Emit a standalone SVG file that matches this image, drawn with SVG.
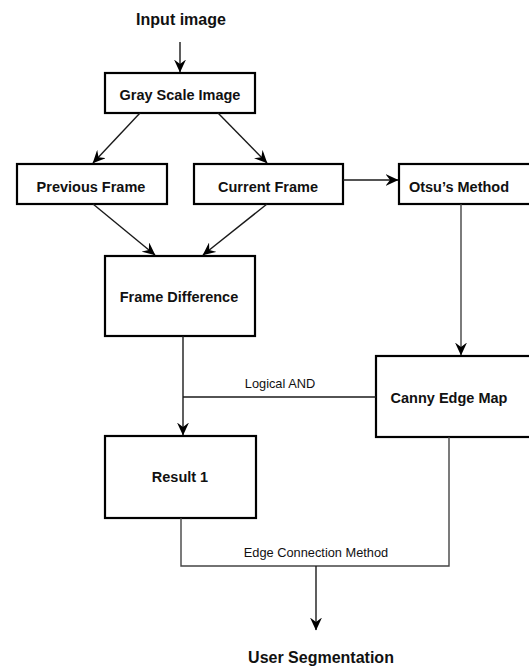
<svg xmlns="http://www.w3.org/2000/svg" width="529" height="668" viewBox="0 0 529 668">
  <style>
    .box { fill: #ffffff; stroke: #000000; stroke-width: 2.2; }
    .label { font-family: "Liberation Sans", Arial, sans-serif; font-weight: bold; font-size: 14.5px; fill: #111111; text-anchor: middle; }
    .title { font-family: "Liberation Sans", Arial, sans-serif; font-weight: bold; font-size: 16px; fill: #111111; text-anchor: middle; }
    .edge-label { font-family: "Liberation Sans", Arial, sans-serif; font-size: 12.8px; fill: #111111; text-anchor: middle; }
    .wire { fill: none; stroke: #1a1a1a; stroke-width: 1.4; }
    .wire-grey { fill: none; stroke: #444444; stroke-width: 1.4; }
  </style>
  <defs>
    <marker id="arrow" viewBox="0 0 13 12" refX="12.5" refY="6" markerWidth="13" markerHeight="12" markerUnits="userSpaceOnUse" orient="auto">
      <path d="M0,0 L13,6 L0,12 L4.5,6 z" fill="#000000"/>
    </marker>
  </defs>
  <rect width="529" height="668" fill="#ffffff"/>

  <!-- input / output captions -->
  <g id="input-image">
    <text class="title" x="181" y="25">Input image</text>
  </g>
  <g id="user-segmentation">
    <text class="title" x="321" y="663">User Segmentation</text>
  </g>

  <!-- processing nodes -->
  <g id="gray-scale-image">
    <rect class="box" x="105" y="73" width="150" height="40"/>
    <text class="label" x="180" y="100">Gray Scale Image</text>
  </g>
  <g id="previous-frame">
    <rect class="box" x="17" y="164" width="150" height="40"/>
    <text class="label" x="91" y="192">Previous Frame</text>
  </g>
  <g id="current-frame">
    <rect class="box" x="194" y="164" width="149" height="40"/>
    <text class="label" x="268" y="192">Current Frame</text>
  </g>
  <g id="otsu-method">
    <rect class="box" x="399" y="164" width="140" height="40"/>
    <text class="label" x="459" y="192">Otsu’s Method</text>
  </g>
  <g id="frame-difference">
    <rect class="box" x="105" y="256" width="150" height="80"/>
    <text class="label" x="179" y="302">Frame Difference</text>
  </g>
  <g id="canny-edge-map">
    <rect class="box" x="376" y="356" width="163" height="81"/>
    <text class="label" x="449" y="403">Canny Edge Map</text>
  </g>
  <g id="result-1">
    <rect class="box" x="105" y="436" width="151" height="82"/>
    <text class="label" x="180" y="482">Result 1</text>
  </g>

  <!-- connectors -->
  <g id="connectors">
    <line class="wire" x1="180" y1="42" x2="180" y2="72" marker-end="url(#arrow)"/>
    <line class="wire" x1="140" y1="113" x2="93" y2="163" marker-end="url(#arrow)"/>
    <line class="wire" x1="218" y1="113" x2="267" y2="163" marker-end="url(#arrow)"/>
    <line class="wire" x1="343" y1="180" x2="398" y2="180" marker-end="url(#arrow)"/>
    <line class="wire" x1="93" y1="204" x2="155" y2="255" marker-end="url(#arrow)"/>
    <line class="wire" x1="267" y1="204" x2="203" y2="255" marker-end="url(#arrow)"/>
    <line class="wire-grey" x1="461" y1="204" x2="461" y2="355" marker-end="url(#arrow)"/>
    <line class="wire" x1="183" y1="336" x2="183" y2="435" marker-end="url(#arrow)"/>
    <line class="wire" x1="376" y1="397" x2="183" y2="397"/>
    <text class="edge-label" x="280" y="388">Logical AND</text>
    <polyline class="wire-grey" points="181,518 181,566 449,566 449,437"/>
    <line class="wire" x1="316" y1="566" x2="316" y2="630" marker-end="url(#arrow)"/>
    <text class="edge-label" x="316" y="557">Edge Connection Method</text>
  </g>
</svg>
